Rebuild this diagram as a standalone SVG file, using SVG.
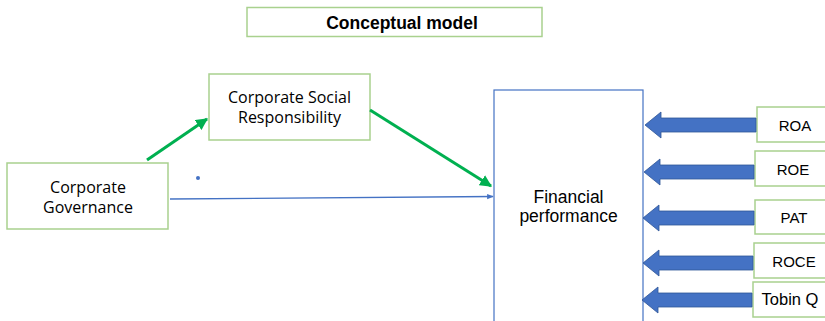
<svg xmlns="http://www.w3.org/2000/svg" width="825" height="321" viewBox="0 0 825 321">
<style>
.gbox{fill:#fff;stroke:#A9D18E;stroke-width:1.5}
.fbox{fill:#fff;stroke:#4472C4;stroke-width:1.2}
.t{font-family:"Open Sans","Noto Sans",sans-serif;font-size:16px;fill:#000;text-anchor:middle}
.a{font-family:"Liberation Sans",Arial,sans-serif;font-size:15px;fill:#000;text-anchor:middle}
.fp{font-family:"Liberation Sans",Arial,sans-serif;font-size:17.5px;fill:#000;text-anchor:middle}
.title{font-family:"Liberation Sans",Arial,sans-serif;font-size:17.5px;font-weight:bold;fill:#000;text-anchor:middle}
.green{stroke:#00B050;stroke-width:3;fill:none}
.blue{stroke:#4472C4;stroke-width:1.3;fill:none}
.blk{fill:#4472C4;stroke:#2F5597;stroke-width:0.8}
</style>
<defs>
<marker id="gh" viewBox="0 0 10 10" refX="9" refY="5" markerWidth="4" markerHeight="4" orient="auto" markerUnits="strokeWidth">
<path d="M0,0 L10,5 L0,10 Z" fill="#00B050"/>
</marker>
<marker id="bh" viewBox="0 0 10 10" refX="9" refY="5" markerWidth="5" markerHeight="5" orient="auto" markerUnits="strokeWidth">
<path d="M0,1 L10,5 L0,9 Z" fill="#4472C4"/>
</marker>
</defs>
<rect width="825" height="321" fill="#fff"/>
<g id="title">
<rect class="gbox" x="247" y="7.5" width="295" height="29"/>
<text class="title" x="402" y="29">Conceptual model</text>
</g>
<g id="cg">
<rect class="gbox" x="7" y="163" width="161" height="66"/>
<text class="t" x="88" y="193">Corporate</text>
<text class="t" x="88" y="213">Governance</text>
</g>
<g id="csr">
<rect class="gbox" x="209" y="74" width="161" height="66"/>
<text class="t" x="289.5" y="102.5">Corporate Social</text>
<text class="t" x="289.5" y="122.5">Responsibility</text>
</g>
<g id="fp">
<rect class="fbox" x="494" y="90" width="149" height="240"/>
<text class="fp" x="568.5" y="203">Financial</text>
<text class="fp" x="568.5" y="222">performance</text>
</g>
<g id="roa">
<rect class="gbox" x="757" y="107" width="80" height="35"/>
<text class="a" x="795" y="131">ROA</text>
</g>
<g id="roe">
<rect class="gbox" x="755" y="151" width="80" height="35"/>
<text class="a" x="793" y="175">ROE</text>
</g>
<g id="pat">
<rect class="gbox" x="755" y="200" width="80" height="34"/>
<text class="a" x="794" y="223">PAT</text>
</g>
<g id="roce">
<rect class="gbox" x="754" y="243" width="80" height="35"/>
<text class="a" x="794" y="267">ROCE</text>
</g>
<g id="tobin">
<rect class="gbox" x="753" y="282" width="80" height="35"/>
<text class="a" x="790" y="305" style="font-size:16.5px">Tobin Q</text>
</g>
<g id="connectors">
<line class="green" x1="147" y1="160" x2="207" y2="119" marker-end="url(#gh)"/>
<line class="green" x1="370" y1="110" x2="491" y2="186" marker-end="url(#gh)"/>
<line class="blue" x1="170" y1="199" x2="493" y2="196.5" marker-end="url(#bh)"/>
<circle cx="198" cy="178" r="2" fill="#4472C4"/>
<polygon class="blk" points="645,125 661,112 661,118 756,118 756,132 661,132 661,138"/>
<polygon class="blk" points="644,172 660,159 660,165 754,165 754,179 660,179 660,185"/>
<polygon class="blk" points="643,218 659,205 659,211 754,211 754,225 659,225 659,231"/>
<polygon class="blk" points="643,263 659,250 659,256 753,256 753,270 659,270 659,276"/>
<polygon class="blk" points="642,300 658,287 658,293 752,293 752,307 658,307 658,313"/>
</g>
</svg>
